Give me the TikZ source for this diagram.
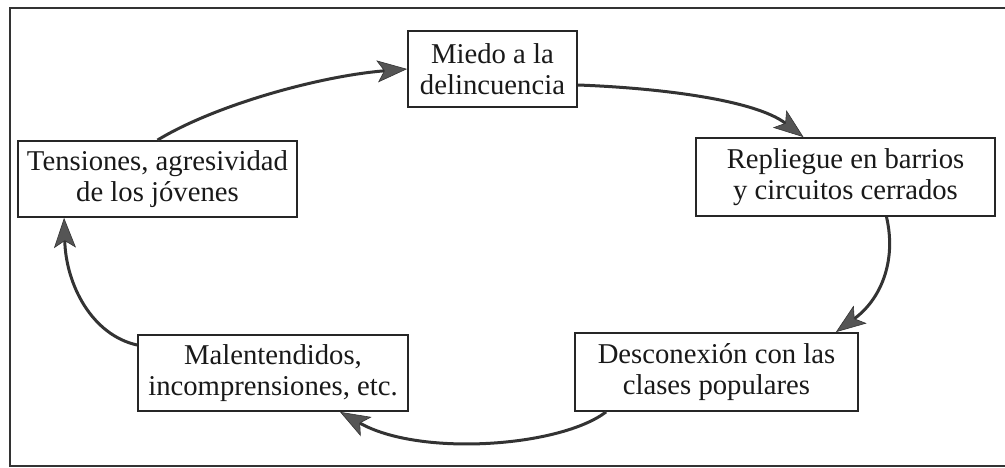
\documentclass[tikz,border=0pt]{standalone}
\usepackage{fontspec}
\setmainfont{Liberation Serif}
\usetikzlibrary{arrows.meta,calc}
\definecolor{linec}{HTML}{333333}
\definecolor{tipc}{HTML}{555555}
\tikzset{
  box/.style={draw=black!85, line width=1.8pt, fill=white, align=center, inner sep=0pt,
    font=\fontsize{28.7}{31}\selectfont, text=black!90},
  conn/.style={draw=linec, line width=3pt,
    -{Stealth[length=30pt,width=22pt,inset=7pt,fill=tipc,line width=0.6pt]}},
}
\begin{document}
\begin{tikzpicture}[x=1pt,y=-1pt]
\useasboundingbox (0,0) rectangle (1005,468);
\draw[line width=2pt, black!80] (10,8) rectangle (1012,466);
\node[box, minimum width=169pt, minimum height=76pt] (miedo) at (492.5,69) {Miedo a la\\delincuencia};
\node[box, minimum width=299pt, minimum height=78pt] (repl) at (845.5,177) {Repliegue en barrios\\y circuitos cerrados};
\node[box, minimum width=279pt, minimum height=76pt] (tens) at (157.5,179) {Tensiones, agresividad\\de los jóvenes};
\node[box, minimum width=270pt, minimum height=76pt] (malen) at (273,373) {Malentendidos,\\incomprensiones, etc.};
\node[box, minimum width=283pt, minimum height=78pt] (desc) at (716.5,372) {Desconexión con las\\clases populares};
\path[conn] (tens.north) .. controls (215,105) and (320,76) .. (miedo.west);
\path[conn] ($(miedo.east)+(0,16)$) .. controls (660,88) and (755,100) .. ($(repl.north)+(-42,0)$);
\path[conn] ($(repl.south)+(41,0)$) .. controls (897,262) and (880,300) .. ($(desc.north east)+(-23,0)$);
\path[conn] ($(desc.south west)+(32,0)$) .. controls (560,447) and (420,457) .. ($(malen.south)+(67,0)$);
\path[conn] ($(malen.west)+(0,-28)$) .. controls (92,335) and (66,285) .. ($(tens.south west)+(47,0)$);
\end{tikzpicture}
\end{document}
